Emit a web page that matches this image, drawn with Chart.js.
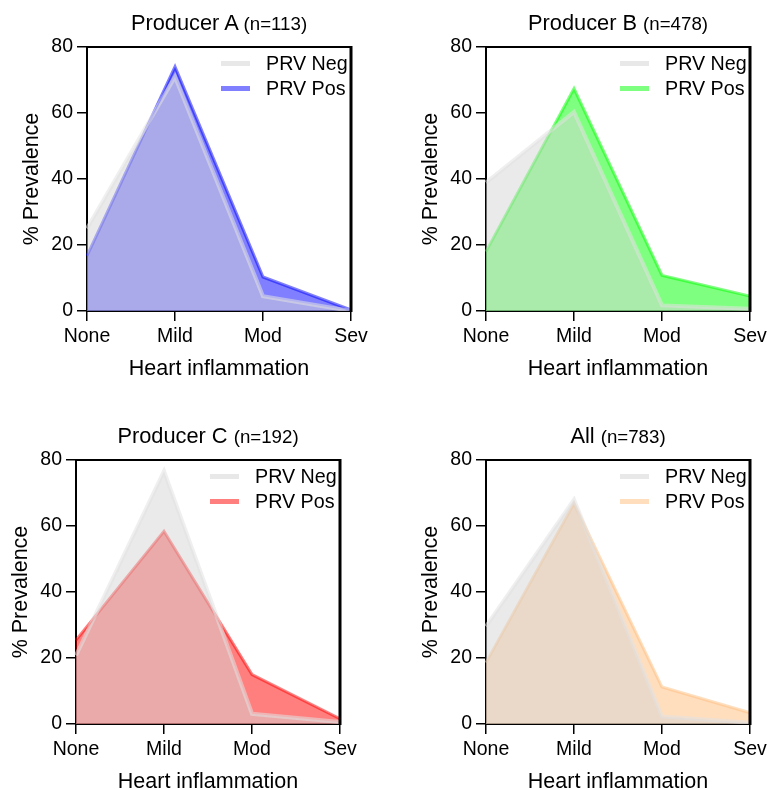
<!DOCTYPE html>
<html>
<head>
<meta charset="utf-8">
<script src="https://cdn.jsdelivr.net/npm/chart.js@4.4.0/dist/chart.umd.min.js"></script>
<style>
    body { margin: 0; background: #fff; width: 769px; height: 789px; overflow: hidden; position: relative;
           font-family: "Liberation Sans", Arial, sans-serif; color: #000; }
    .panel { position: absolute; width: 384px; height: 400px; }
    .panel canvas { position: absolute; left: 0; top: 0; }
    .title { position: absolute; left: 87px; width: 264px; top: 10px; text-align: center;
             line-height: 26px; font-size: 21.8px; white-space: nowrap; }
    .title small { font-size: 18.7px; }
    .legend { position: absolute; left: 221px; top: 51px; font-size: 19.7px; line-height: 25px; white-space: nowrap; }
    .legend div { position: relative; padding-left: 45px; }
    .legend i { position: absolute; left: 0; top: 10px; width: 29px; height: 5px; }
</style>
</head>
<body>
<script>
// ── Data ──
const CATEGORIES = ['None', 'Mild', 'Mod', 'Sev'];
const Y_TICKS = [0, 20, 40, 60, 80];
const SERIES_NAMES = ['PRV Neg', 'PRV Pos'];

const TITLES = ['Producer A', 'Producer B', 'Producer C', 'All'];
const COUNTS = [113, 478, 192, 783];

const negA = [25, 71, 4.5, 0];
const posA = [16.7, 74, 10.3, 0.3];
const negB = [38.9, 60.3, 1.7, 0.7];
const posB = [18, 67.4, 10.8, 4.5];
const negC = [20.8, 76.6, 3.1, 0.6];
const posC = [25.4, 58.4, 15, 1.6];
const negD = [29.6, 68, 2.3, 0.4];
const posD = [18.6, 66.8, 11.2, 3.4];

const NEG = [negA, negB, negC, negD];
const POS = [posA, posB, posC, posD];

// ── Style / layout ──
const POS_COLORS = ['rgba(0,0,255,0.5)', 'rgba(0,255,0,0.5)', 'rgba(255,0,0,0.5)', 'rgba(255,190,125,0.5)'];
const NEG_FILL = 'rgba(214,214,214,0.5)';
const NEG_LINE = 'rgba(226,226,226,0.55)';
const NEG_SWATCH = 'rgb(232,232,232)';
const PANEL_POS = [[0, 0], [399, 0], [-11, 413], [399, 413]];
const FONT = "'Liberation Sans', Arial, sans-serif";

Chart.defaults.color = '#000';
Chart.defaults.font.family = FONT;

// top + right edges of the box
const framePlugin = {
    id: 'frame',
    afterDraw(chart) {
        const { ctx, chartArea: a } = chart;
        ctx.save();
        ctx.strokeStyle = '#000';
        ctx.lineWidth = 2;
        ctx.beginPath();
        ctx.moveTo(a.left, a.top);
        ctx.lineTo(a.right, a.top);
        ctx.stroke();
        ctx.lineWidth = 3;
        ctx.beginPath();
        ctx.moveTo(a.right, a.top - 1);
        ctx.lineTo(a.right, a.bottom + 1);
        ctx.stroke();
        ctx.restore();
    }
};

function makePanel(i) {
    const [left, top] = PANEL_POS[i];
    const div = document.createElement('div');
    div.className = 'panel';
    div.style.left = left + 'px';
    div.style.top = top + 'px';
    div.innerHTML = `
        <canvas></canvas>
        <div class="title">${TITLES[i]} <small>(n=${COUNTS[i]})</small></div>
        <div class="legend">
            <div><i style="background:${NEG_SWATCH}"></i>${SERIES_NAMES[0]}</div>
            <div><i style="background:${POS_COLORS[i]}"></i>${SERIES_NAMES[1]}</div>
        </div>`;
    document.body.appendChild(div);

    new Chart(div.querySelector('canvas'), {
        type: 'line',
        data: {
            labels: CATEGORIES,
            datasets: [
                {
                    label: SERIES_NAMES[0],
                    data: NEG[i],
                    borderColor: NEG_LINE,
                    backgroundColor: NEG_FILL,
                    borderWidth: 4,
                    fill: 'origin',
                },
                {
                    label: SERIES_NAMES[1],
                    data: POS[i],
                    borderColor: POS_COLORS[i],
                    backgroundColor: POS_COLORS[i],
                    borderWidth: 3,
                    fill: 'origin',
                }
            ]
        },
        options: {
            responsive: true,
            maintainAspectRatio: false,
            animation: false,
            layout: { padding: { left: 0, top: 47, right: 33, bottom: 0 } },
            elements: { point: { radius: 0 }, line: { tension: 0, borderJoinStyle: 'miter' } },
            plugins: { legend: { display: false }, tooltip: { enabled: false } },
            scales: {
                x: {
                    offset: false,
                    afterFit: s => { s.height = 89; },
                    grid: { drawOnChartArea: false, drawTicks: true, tickLength: 10, color: '#000', lineWidth: 1.5 },
                    border: { display: true, color: '#000', width: 2 },
                    ticks: { font: { size: 19.5 }, padding: 4, maxRotation: 0, autoSkip: false },
                    title: { display: true, text: 'Heart inflammation', font: { size: 21.5 }, padding: { top: 0, bottom: 18 } }
                },
                y: {
                    min: 0,
                    max: 80,
                    afterFit: s => { s.width = 87; },
                    afterBuildTicks: s => { s.ticks = Y_TICKS.map(v => ({ value: v })); },
                    grid: { drawOnChartArea: false, drawTicks: true, tickLength: 10, color: '#000', lineWidth: 1.5 },
                    border: { display: true, color: '#000', width: 2 },
                    ticks: { font: { size: 19.5 }, padding: 4 },
                    title: { display: true, text: '% Prevalence', font: { size: 21.5 }, padding: { top: 19, bottom: 0 } }
                }
            }
        },
        plugins: [framePlugin]
    });
}

TITLES.forEach((_, i) => makePanel(i));
</script>
</body>
</html>
